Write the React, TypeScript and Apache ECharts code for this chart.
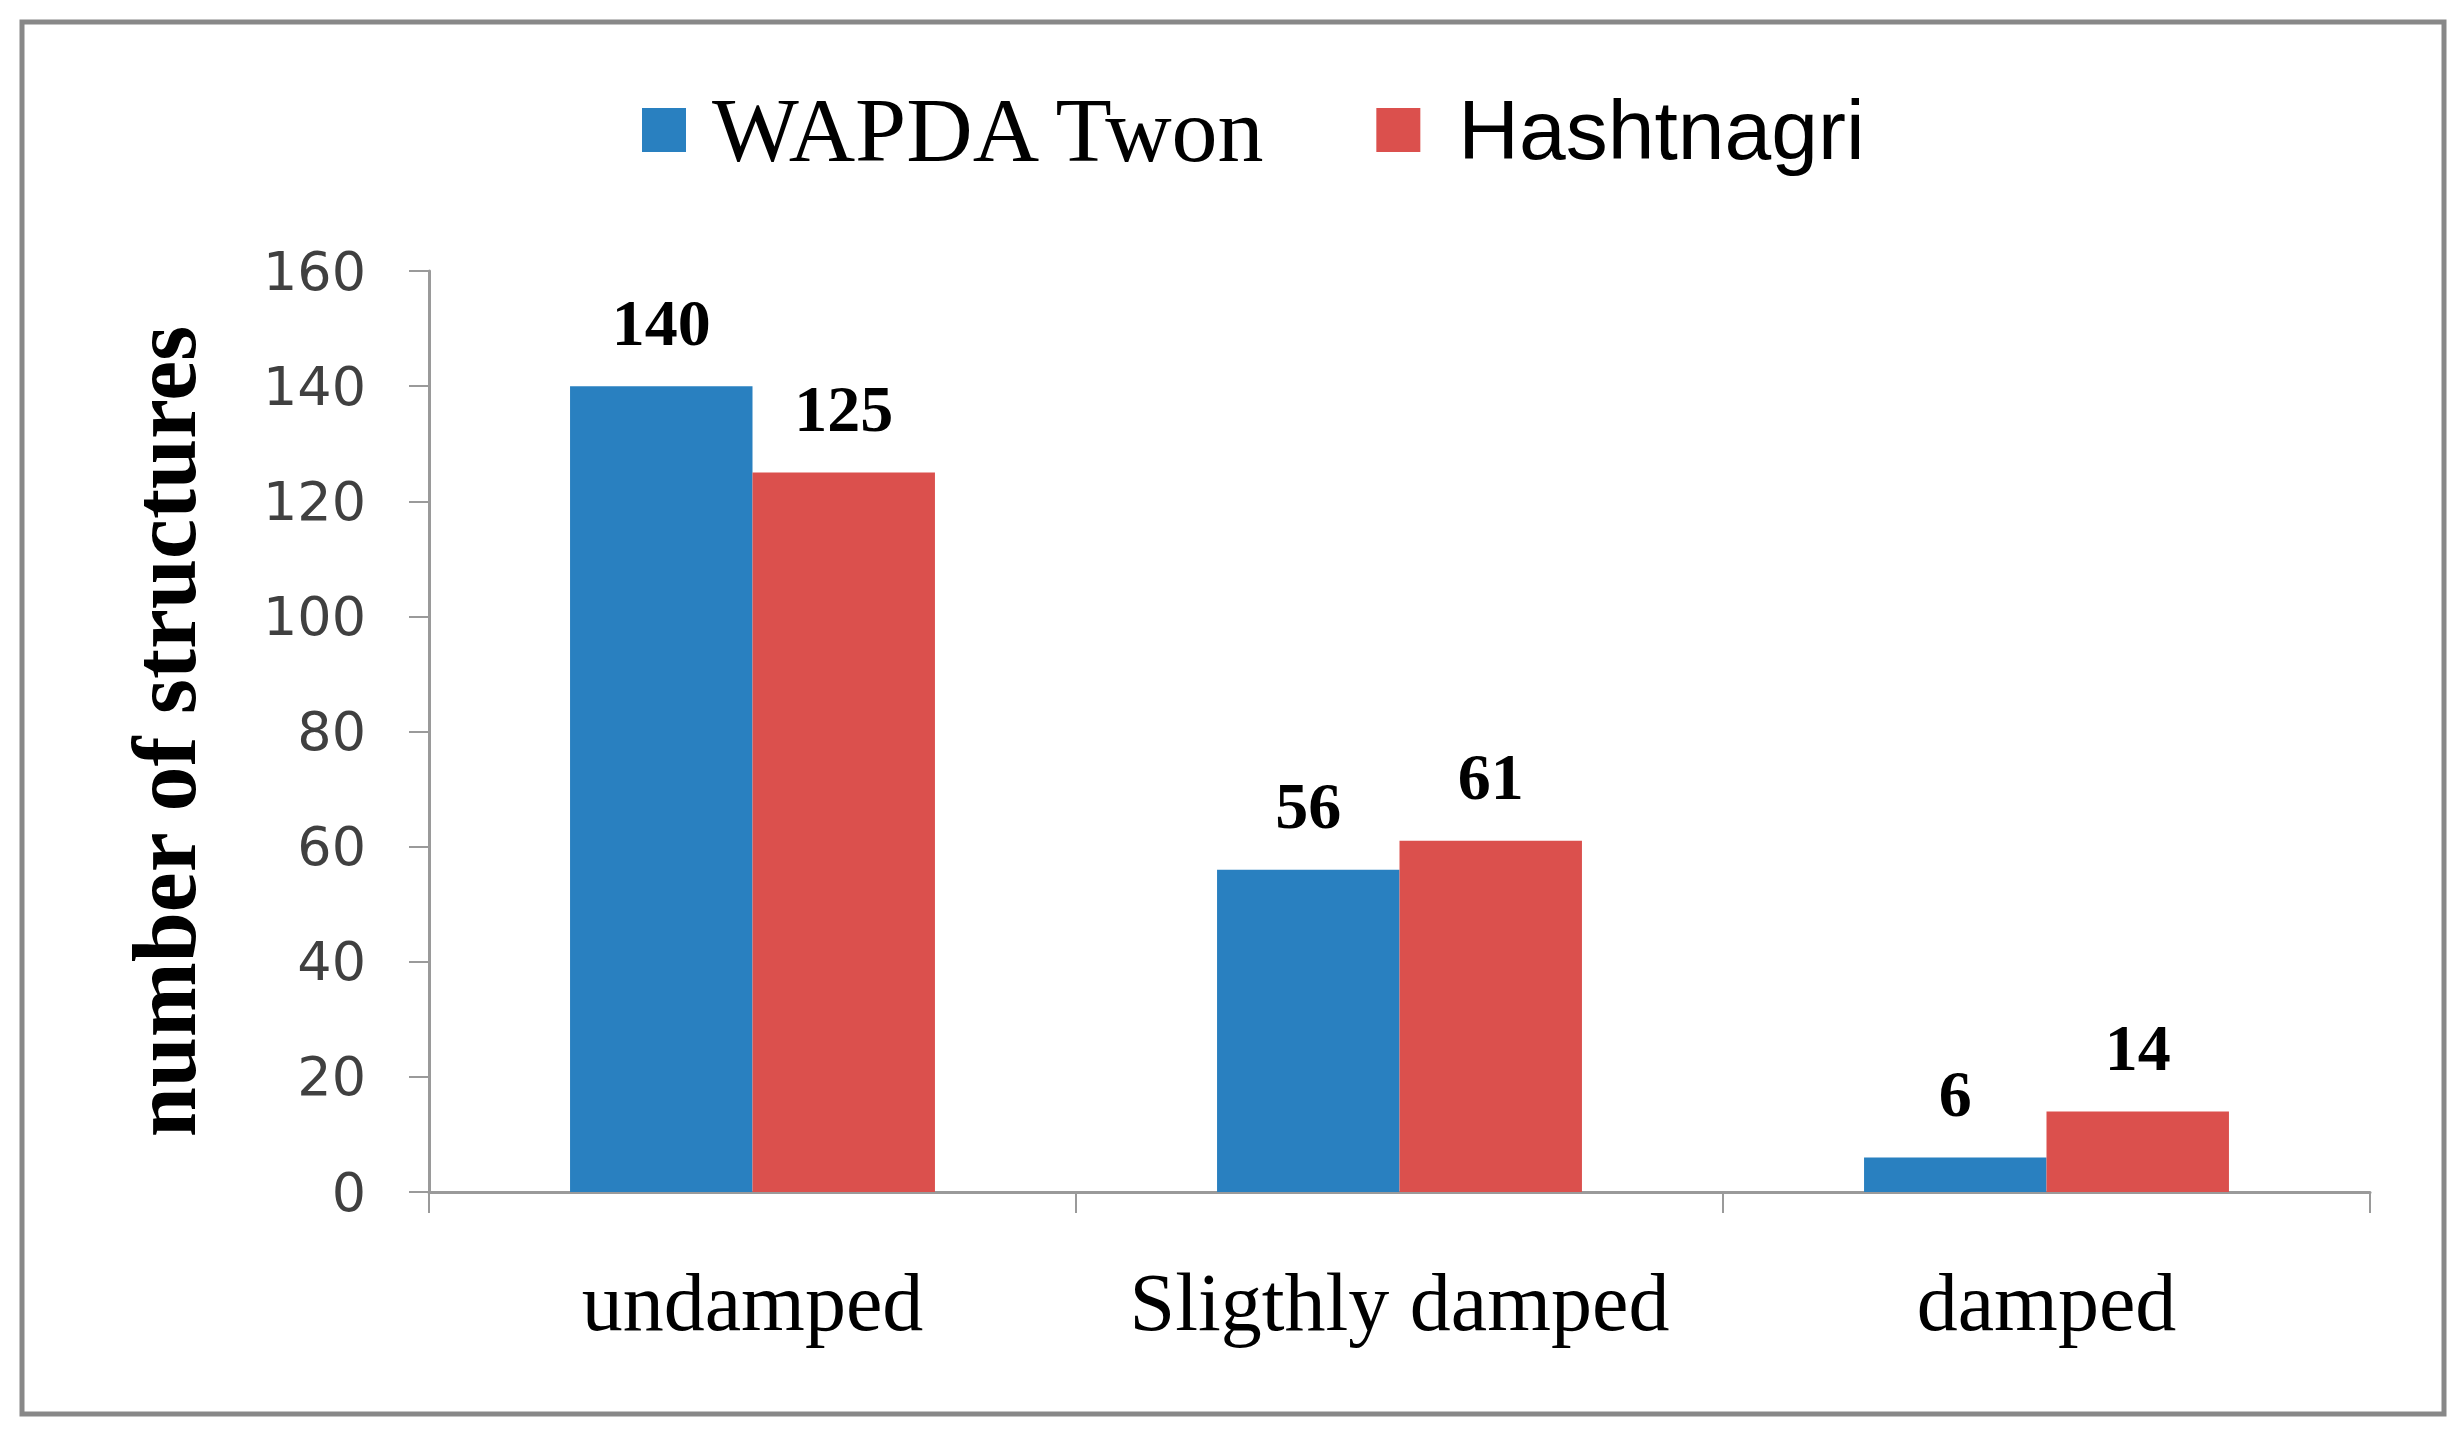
import React, { useEffect, useRef } from "react";
import * as echarts from "echarts";

const categories = ["undamped", "Sligthly damped", "damped"];
const seriesNames = ["WAPDA Twon", "Hashtnagri"];
const wapdaValues = [140, 56, 6];
const hashtnagriValues = [125, 61, 14];
const yTicks = { min: 0, max: 160, interval: 20 };
const yAxisTitle = "number of structures";

export default function App() {
  const ref = useRef<HTMLDivElement>(null);

  useEffect(() => {
    if (!ref.current) return;
    const chart = echarts.init(ref.current, undefined, { renderer: "svg" });
    const labelStyle = {
      show: true,
      position: "top" as const,
      distance: 31,
      fontFamily: "Liberation Serif",
      fontWeight: "bold" as const,
      fontSize: 66,
      color: "#000",
    };
    chart.setOption({
      animation: false,
      backgroundColor: "#fff",
      graphic: [
        {
          type: "rect",
          shape: { x: 22, y: 22, width: 2422, height: 1392 },
          style: { fill: "none", stroke: "#888888", lineWidth: 5 },
          silent: true,
        },
      ],
      legend: {
        left: 642,
        top: 84,
        padding: 0,
        icon: "rect",
        itemWidth: 44,
        itemHeight: 44,
        itemGap: 106,
        data: [
          {
            name: seriesNames[0],
            textStyle: {
              fontFamily: "Liberation Serif",
              fontSize: 92,
              color: "#000",
              padding: [0, 0, 0, 21],
            },
          },
          {
            name: seriesNames[1],
            textStyle: {
              fontFamily: "Liberation Sans",
              fontSize: 84,
              color: "#000",
              padding: [0, 0, 0, 33],
            },
          },
        ],
      },
      grid: { left: 429, right: 93, top: 271, bottom: 248, containLabel: false },
      xAxis: {
        type: "category",
        data: categories,
        axisLine: { show: true, lineStyle: { color: "#9a9a9a", width: 3 } },
        axisTick: { show: true, length: 21, lineStyle: { color: "#9a9a9a", width: 2 } },
        axisLabel: {
          interval: 0,
          fontFamily: "Liberation Serif",
          fontSize: 82,
          color: "#000",
          margin: 69,
        },
        splitLine: { show: false },
      },
      yAxis: {
        type: "value",
        min: yTicks.min,
        max: yTicks.max,
        interval: yTicks.interval,
        name: yAxisTitle,
        nameLocation: "middle",
        nameGap: 220,
        nameTextStyle: {
          fontFamily: "Liberation Serif",
          fontWeight: "bold",
          fontSize: 90,
          color: "#000",
        },
        axisLine: { show: true, lineStyle: { color: "#9a9a9a", width: 3 } },
        axisTick: { show: true, length: 20, lineStyle: { color: "#9a9a9a", width: 2 } },
        axisLabel: {
          fontFamily: "DejaVu Sans",
          fontSize: 54,
          color: "#404040",
          margin: 63,
        },
        splitLine: { show: false },
      },
      series: [
        {
          name: seriesNames[0],
          type: "bar",
          data: wapdaValues,
          barGap: "0%",
          barCategoryGap: "43.6%",
          itemStyle: { color: "#2980c0" },
          label: labelStyle,
        },
        {
          name: seriesNames[1],
          type: "bar",
          data: hashtnagriValues,
          barGap: "0%",
          barCategoryGap: "43.6%",
          itemStyle: { color: "#db504d" },
          label: labelStyle,
        },
      ],
    });
    return () => chart.dispose();
  }, []);

  return (
    <div
      ref={ref}
      style={{ position: "absolute", left: 0, top: 0, width: 2463, height: 1440 }}
    />
  );
}
